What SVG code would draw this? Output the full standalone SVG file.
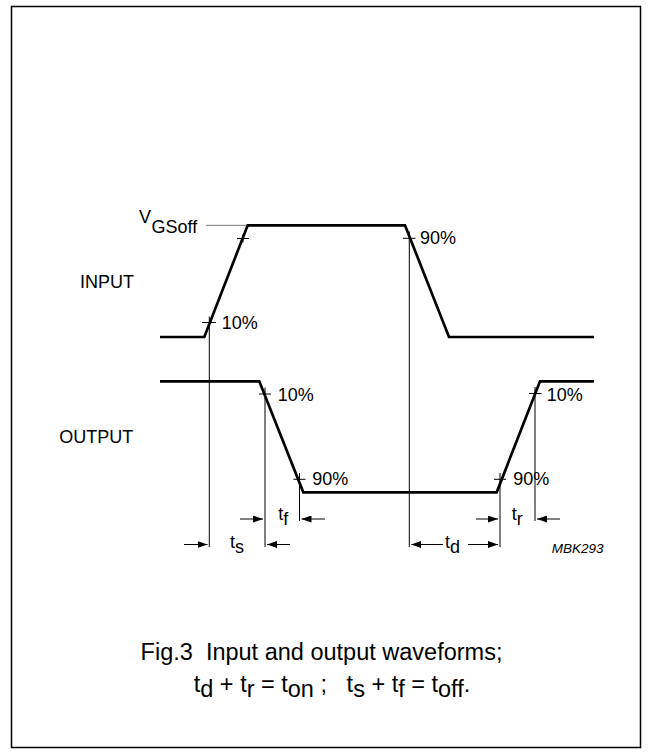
<svg xmlns="http://www.w3.org/2000/svg" width="651" height="756" viewBox="0 0 651 756">
<defs>
<marker id="ah" markerUnits="userSpaceOnUse" markerWidth="10" markerHeight="7" refX="10" refY="3.5" orient="auto">
<path d="M0,0 L10,3.5 L0,7 z" fill="#000"/>
</marker>
</defs>
<style>
text{font-family:"Liberation Sans",Arial,Helvetica,sans-serif;fill:#000}
.lbl{font-size:18px}
.wave{fill:none;stroke:#000;stroke-width:2.7;stroke-linejoin:miter}
.thin{fill:none;stroke:#000;stroke-width:1}
.arr{fill:none;stroke:#000;stroke-width:1;marker-end:url(#ah)}
.cap{font-size:23.5px;white-space:pre}
</style>
<rect x="11.5" y="6.5" width="629" height="741" fill="#fff" stroke="#000" stroke-width="1.5"/>

<g id="input-wave">
<polyline class="wave" points="160,337 204.3,337 247.7,225.3 405,225.3 449,337 594,337"/>
<line x1="206" y1="225.3" x2="246" y2="225.3" stroke="#777" stroke-width="1"/>
<text class="lbl" x="139" y="223">V</text>
<text class="lbl" x="151.5" y="233">GSoff</text>
<text class="lbl" x="80" y="288">INPUT</text>
<path class="thin" d="M237,238.5 H249 M243,234.5 V242.5"/>
<path class="thin" d="M202,322.5 H216"/>
<text class="lbl" x="221.7" y="329">10%</text>
<path class="thin" d="M403,238.3 H415.5"/>
<text class="lbl" x="420" y="244">90%</text>
</g>

<g id="output-wave">
<polyline class="wave" points="160,381.3 259.3,381.3 303.3,492.3 496.7,492.3 540,381.3 594,381.3"/>
<text class="lbl" x="59.3" y="443">OUTPUT</text>
<path class="thin" d="M259,394 H271"/>
<text class="lbl" x="277.7" y="401">10%</text>
<path class="thin" d="M293.5,479.3 H305.5"/>
<text class="lbl" x="312.3" y="485">90%</text>
<path class="thin" d="M494,479.3 H506"/>
<text class="lbl" x="513.3" y="485">90%</text>
<path class="thin" d="M529,393.5 H541.5"/>
<text class="lbl" x="546.7" y="400.7">10%</text>
</g>

<g id="connectors">
<line class="thin" x1="209.3" y1="316.5" x2="209.3" y2="547"/>
<line class="thin" x1="409.3" y1="231.5" x2="409.3" y2="547"/>
<line class="thin" x1="265" y1="387.5" x2="265" y2="547"/>
<line class="thin" x1="299.5" y1="473" x2="299.5" y2="521"/>
<line class="thin" x1="500" y1="473" x2="500" y2="547"/>
<line class="thin" x1="535" y1="387" x2="535" y2="521"/>
<line class="arr" x1="184" y1="544.5" x2="207.5" y2="544.5"/>
<line class="arr" x1="290" y1="544.5" x2="267" y2="544.5"/>
<line class="arr" x1="240" y1="519" x2="263" y2="519"/>
<line class="arr" x1="325" y1="519" x2="301.5" y2="519"/>
<line class="arr" x1="443" y1="544.5" x2="411.3" y2="544.5"/>
<line class="arr" x1="468" y1="544.5" x2="498" y2="544.5"/>
<line class="arr" x1="476" y1="519" x2="498" y2="519"/>
<line class="arr" x1="560" y1="519" x2="537" y2="519"/>
</g>

<g id="dim-labels">
<text class="lbl" x="230" y="548">t<tspan dy="5">s</tspan></text>
<text class="lbl" x="278.3" y="520">t<tspan dy="5">f</tspan></text>
<text class="lbl" x="445" y="548">t<tspan dy="5">d</tspan></text>
<text class="lbl" x="511.7" y="520">t<tspan dy="5">r</tspan></text>
<text x="551.7" y="553" style="font-size:13.5px;font-style:italic">MBK293</text>
</g>

<g id="caption">
<text class="cap" x="321.5" y="660" text-anchor="middle">Fig.3  Input and output waveforms;</text>
<text class="cap" x="332" y="692" text-anchor="middle">t<tspan dy="5">d</tspan><tspan dy="-5"> + t</tspan><tspan dy="5">r</tspan><tspan dy="-5"> = t</tspan><tspan dy="5">on</tspan><tspan dy="-5"> ;   t</tspan><tspan dy="5">s</tspan><tspan dy="-5"> + t</tspan><tspan dy="5">f</tspan><tspan dy="-5"> = t</tspan><tspan dy="5">off</tspan><tspan dy="-5">.</tspan></text>
</g>
</svg>
